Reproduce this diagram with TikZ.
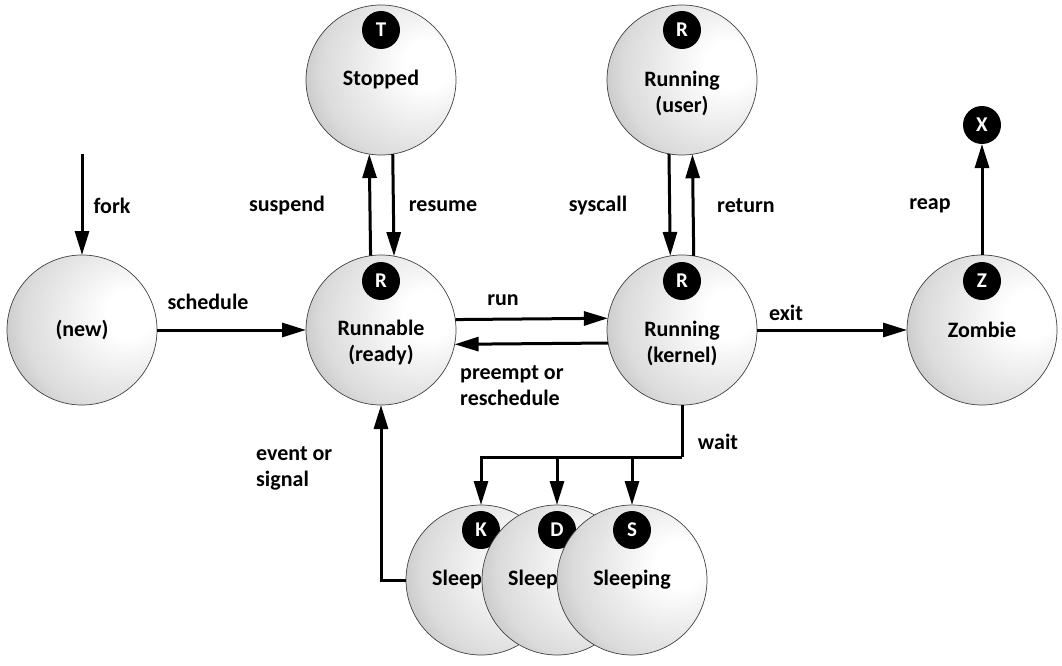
\documentclass[tikz,border=0pt]{standalone}
\usepackage{fontspec}
\setmainfont{Carlito}
\usetikzlibrary{arrows.meta,calc}
\pgfdeclareradialshading{stateball}{\pgfpoint{18bp}{6bp}}{%
  color(0bp)=(white);
  color(8bp)=(white);
  color(30bp)=(black!14);
  color(50bp)=(black!40);
  color(70bp)=(black!50)}
\tikzset{
  state/.style={circle,draw=black!75,line width=0.7pt,minimum size=150pt,inner sep=0pt,outer sep=0pt,shading=stateball},
  badge/.style={circle,fill=black,minimum size=38pt,inner sep=0pt,outer sep=0pt,text=white,font=\fontsize{21}{22}\selectfont\bfseries},
  stxt/.style={font=\fontsize{22}{26}\selectfont\bfseries,align=center,inner sep=0pt},
  lbl/.style={font=\fontsize{22}{26}\selectfont\bfseries,align=left,inner sep=0pt},
  arr/.style={line width=3pt,-{Triangle[length=24pt,width=14pt]}},
}
\begin{document}
\begin{tikzpicture}[x=1pt,y=-1pt]
\useasboundingbox (0,0) rectangle (1062,666);
% states
\node[state] (new) at (82,330) {};
\node[stxt] (newt) at (82,330) {(new)};

\node[state] (runnable) at (381,330) {};
\node[stxt] (runnablet) at (381,343) {Runnable\\(ready)};
\node[badge] (runnableb) at (381,281) {R};

\node[state] (stopped) at (381,80) {};
\node[stxt] (stoppedt) at (381,80) {Stopped};
\node[badge] (stoppedb) at (381,30) {T};

\node[state] (user) at (682,80) {};
\node[stxt] (usert) at (682,93) {Running\\(user)};
\node[badge] (userb) at (682,30) {R};

\node[state] (kernel) at (682,330) {};
\node[stxt] (kernelt) at (682,343) {Running\\(kernel)};
\node[badge] (kernelb) at (682,281) {R};

\node[state] (zombie) at (982,330) {};
\node[stxt] (zombiet) at (982,330) {Zombie};
\node[badge] (zombieb) at (982,281) {Z};

\node[badge] (xb) at (982,125) {X};

\node[state] (sleepk) at (481,580) {};
\node[stxt,anchor=west] (sleepkt) at (432,580) {Sleeping};
\node[badge] (sleepkb) at (481,530) {K};

\node[state] (sleepd) at (557,580) {};
\node[stxt,anchor=west] (sleepdt) at (508,580) {Sleeping};
\node[badge] (sleepdb) at (557,530) {D};

\node[state] (sleeps) at (632,580) {};
\node[stxt] (sleepst) at (632,580) {Sleeping};
\node[badge] (sleepsb) at (632,530) {S};

% connectors
\coordinate (forkstart) at (82,154);
\draw[arr] (forkstart) -- (new.north);
\node[lbl] (forkl) at (112,206) {fork};

\draw[arr] (new.east) -- (runnable.west);
\node[lbl] (schedl) at (208,302) {schedule};

\draw[arr] (runnable.98.6) -- (stopped.261.4);
\draw[arr] (stopped.279.2) -- (runnable.80.8);
\node[lbl] (suspl) at (287,206) {suspend};
\node[lbl] (resl) at (443,206) {resume};

\draw[arr] (runnable.8.4) -- (kernel.171.6);
\draw[arr] (kernel.190.4) -- (runnable.349.6);
\node[lbl] (runl) at (503,300) {run};
\node[lbl,anchor=west] (preel) at (460,386) {preempt or\\reschedule};

\draw[arr] (user.260.8) -- (kernel.99.2);
\draw[arr] (kernel.81.6) -- (user.278.4);
\node[lbl] (sysl) at (598,206) {syscall};
\node[lbl] (retl) at (746,206) {return};

\draw[arr] (kernel.east) -- (zombie.west);
\node[lbl] (exitl) at (786,313) {exit};

\draw[arr] (zombie.north) -- (xb.south);
\node[lbl] (reapl) at (930,206) {reap};

\coordinate (waitj) at (682,457);
\draw[line width=3pt] (kernel.south) -- (waitj);
\draw[arr] (waitj) -| (sleepk.north);
\draw[arr] (waitj) -| (sleepd.north);
\draw[arr] (waitj) -| (sleeps.north);
\node[lbl] (waitl) at (718,442) {wait};

\draw[arr] (sleepk.west) -| (runnable.south);
\node[lbl,anchor=west] (evl) at (256,468) {event or\\signal};
\end{tikzpicture}
\end{document}
